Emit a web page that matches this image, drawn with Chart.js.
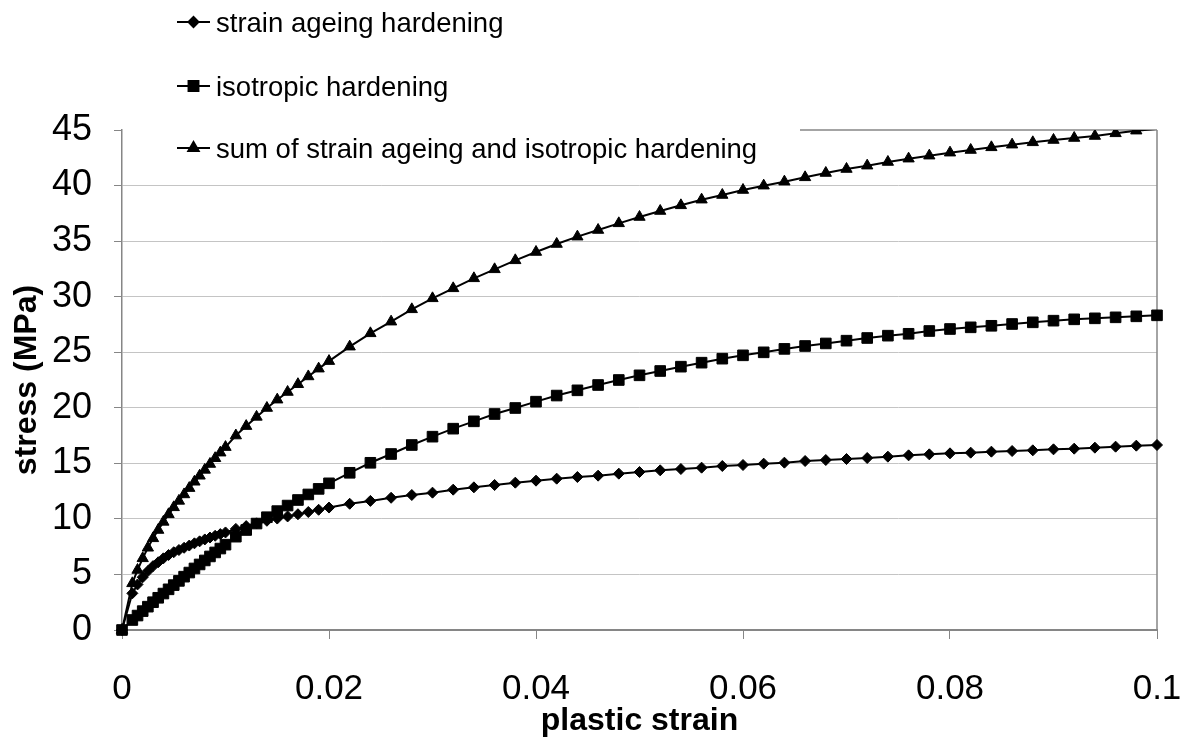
<!DOCTYPE html>
<html lang="en">
<head>
<meta charset="UTF-8">
<title>Stress vs plastic strain</title>
<script src="https://cdn.jsdelivr.net/npm/chart.js"></script>
<style>
  html, body { margin: 0; padding: 0; background: #fff; }
  .chart-container { width: 1189px; height: 740px; position: relative; }
</style>
</head>
<body>
<div class="chart-container"><canvas id="stressChart"></canvas></div>
<script>
// plastic strain (x) shared by all three series
const strain = [
  0, 0.001, 0.0015, 0.002, 0.0025, 0.003, 0.0035, 0.004, 0.0045, 0.005,
  0.0055, 0.006, 0.0065, 0.007, 0.0075, 0.008, 0.0085, 0.009, 0.0095, 0.01,
  0.011, 0.012, 0.013, 0.014, 0.015, 0.016, 0.017, 0.018, 0.019, 0.02,
  0.022, 0.024, 0.026, 0.028, 0.03, 0.032, 0.034, 0.036, 0.038, 0.04,
  0.042, 0.044, 0.046, 0.048, 0.05, 0.052, 0.054, 0.056, 0.058, 0.06,
  0.062, 0.064, 0.066, 0.068, 0.07, 0.072, 0.074, 0.076, 0.078, 0.08,
  0.082, 0.084, 0.086, 0.088, 0.09, 0.092, 0.094, 0.096, 0.098, 0.1
];

const strainAgeing = [
  0, 3.3, 4.1, 4.75, 5.3, 5.75, 6.1, 6.45, 6.75, 7.0,
  7.2, 7.4, 7.6, 7.8, 7.98, 8.15, 8.32, 8.48, 8.63, 8.78,
  9.1, 9.35, 9.6, 9.83, 10.03, 10.22, 10.42, 10.62, 10.82, 11.02,
  11.36, 11.62, 11.9, 12.15, 12.36, 12.63, 12.84, 13.05, 13.26, 13.44,
  13.62, 13.77, 13.89, 14.07, 14.22, 14.37, 14.49, 14.61, 14.76, 14.85,
  14.97, 15.06, 15.21, 15.3, 15.39, 15.48, 15.6, 15.72, 15.81, 15.9,
  15.96, 16.05, 16.11, 16.17, 16.26, 16.32, 16.41, 16.5, 16.59, 16.65
];

const isotropic = [
  0, 0.9, 1.3, 1.7, 2.1, 2.5, 2.9, 3.28, 3.66, 4.04,
  4.42, 4.8, 5.17, 5.54, 5.9, 6.26, 6.62, 6.98, 7.33, 7.68,
  8.4, 9.0, 9.58, 10.15, 10.7, 11.2, 11.7, 12.2, 12.7, 13.2,
  14.15, 15.05, 15.84, 16.65, 17.4, 18.12, 18.78, 19.44, 19.98, 20.55,
  21.1, 21.57, 22.05, 22.5, 22.92, 23.31, 23.7, 24.06, 24.42, 24.72,
  24.99, 25.3, 25.56, 25.79, 26.04, 26.28, 26.49, 26.66, 26.91, 27.09,
  27.24, 27.38, 27.54, 27.69, 27.84, 27.96, 28.05, 28.14, 28.23, 28.32
];

const sumHardening = [
  0, 4.2, 5.4, 6.45, 7.4, 8.25, 9.0, 9.73, 10.41, 11.04,
  11.62, 12.2, 12.77, 13.34, 13.88, 14.41, 14.94, 15.46, 15.96, 16.46,
  17.5, 18.35, 19.18, 19.98, 20.73, 21.42, 22.12, 22.82, 23.52, 24.2,
  25.5, 26.7, 27.75, 28.86, 29.85, 30.75, 31.65, 32.46, 33.27, 34.02,
  34.74, 35.4, 36.0, 36.6, 37.17, 37.71, 38.22, 38.73, 39.15, 39.6,
  39.99, 40.35, 40.74, 41.13, 41.49, 41.79, 42.12, 42.42, 42.69, 42.96,
  43.2, 43.44, 43.68, 43.89, 44.1, 44.28, 44.46, 44.7, 44.94, 45.1
];

const seriesLabels = [
  'strain ageing hardening',
  'isotropic hardening',
  'sum of strain ageing and isotropic hardening'
];

const xTicks = [0, 0.02, 0.04, 0.06, 0.08, 0.1];
const yTicks = [0, 5, 10, 15, 20, 25, 30, 35, 40, 45];
const Y_MAX = 45;

const FONT = "'Liberation Sans', Arial, Helvetica, sans-serif";
const AXIS_GREY = '#868686';
const GRID_GREY = '#c4c4c4';

// marker size per point style, shared by plot and legend
const MARKER_R = { rectRot: 5.5, rect: 7.5, triangle: 6.5 };

function toPoints(ys) {
  return strain.map((x, i) => ({ x: x, y: ys[i] }));
}

// hide markers that fall above the top of the axis (Excel clips them)
function markerRadius(r) {
  return ctx => (ctx.raw && ctx.raw.y > Y_MAX ? 0 : r);
}

function makeDataset(label, ys, style) {
  return {
    label: label,
    data: toPoints(ys),
    showLine: true,
    borderColor: '#000',
    borderWidth: 2,
    backgroundColor: '#000',
    pointStyle: style,
    pointRadius: markerRadius(MARKER_R[style]),
    pointBackgroundColor: '#000',
    pointBorderColor: '#000',
    pointBorderWidth: 1,
    pointHoverRadius: markerRadius(MARKER_R[style]),
    tension: 0,
    clip: { left: 14, right: 14, top: 0, bottom: 14 }
  };
}

// legend rows drawn over the top-left of the plot, plus the frame lines
const frameAndLegend = {
  id: 'frameAndLegend',
  beforeDatasetsDraw(chart) {
    const { ctx, chartArea } = chart;
    ctx.save();
    ctx.strokeStyle = AXIS_GREY;
    ctx.lineWidth = 1.5;
    ctx.beginPath();
    ctx.moveTo(chartArea.right, chartArea.top);
    ctx.lineTo(chartArea.right, chartArea.bottom);
    ctx.moveTo(800, chartArea.top);
    ctx.lineTo(chartArea.right, chartArea.top);
    ctx.stroke();
    ctx.restore();
  },
  afterDraw(chart) {
    const { ctx } = chart;
    const rows = [22, 86, 148];
    ctx.save();
    chart.data.datasets.forEach((ds, i) => {
      const y = rows[i];
      ctx.strokeStyle = '#000';
      ctx.lineWidth = 2;
      ctx.beginPath();
      ctx.moveTo(177, y);
      ctx.lineTo(210, y);
      ctx.stroke();
      ctx.fillStyle = '#000';
      Chart.helpers.drawPoint(ctx, { pointStyle: ds.pointStyle, radius: MARKER_R[ds.pointStyle] - 0.5, rotation: 0, borderWidth: 1 }, 193.5, y);
      ctx.font = '27.5px ' + FONT;
      ctx.textBaseline = 'middle';
      ctx.textAlign = 'left';
      ctx.fillText(ds.label, 216, y + 2);
    });
    ctx.restore();
  }
};

new Chart(document.getElementById('stressChart'), {
  type: 'scatter',
  data: {
    datasets: [
      makeDataset(seriesLabels[0], strainAgeing, 'rectRot'),
      makeDataset(seriesLabels[1], isotropic, 'rect'),
      makeDataset(seriesLabels[2], sumHardening, 'triangle')
    ]
  },
  options: {
    responsive: true,
    maintainAspectRatio: false,
    animation: false,
    layout: { padding: { top: 130, right: 32, left: 0, bottom: 0 } },
    plugins: {
      legend: { display: false },
      tooltip: { enabled: false }
    },
    scales: {
      x: {
        type: 'linear',
        min: 0,
        max: 0.1,
        afterBuildTicks: s => { s.ticks = xTicks.map(v => ({ value: v })); },
        afterFit: s => { s.height = 110; s.paddingLeft = 0; s.paddingRight = 0; },
        ticks: {
          color: '#000',
          font: { family: FONT, size: 35 },
          padding: 29,
          maxRotation: 0,
          callback: v => String(v)
        },
        grid: {
          drawOnChartArea: false,
          drawTicks: true,
          tickLength: 9,
          tickColor: AXIS_GREY,
          tickWidth: 1
        },
        border: { color: AXIS_GREY, width: 2 },
        title: {
          display: true,
          text: 'plastic strain',
          color: '#000',
          font: { family: FONT, size: 32, weight: 'bold' },
          padding: { top: 0, bottom: 0 }
        }
      },
      y: {
        type: 'linear',
        min: 0,
        max: Y_MAX,
        afterBuildTicks: s => { s.ticks = yTicks.map(v => ({ value: v })); },
        afterFit: s => { s.width = 122; s.paddingTop = 0; s.paddingBottom = 0; },
        ticks: {
          color: '#000',
          font: { family: FONT, size: 36 },
          padding: 22,
          callback: v => String(v)
        },
        grid: {
          color: ctx => (ctx.tick && ctx.tick.value === Y_MAX ? 'rgba(0,0,0,0)' : GRID_GREY),
          lineWidth: 1,
          tickLength: 8,
          tickColor: AXIS_GREY,
          tickWidth: 1
        },
        border: { color: AXIS_GREY, width: 1.5 },
        title: {
          display: true,
          text: 'stress (MPa)',
          color: '#000',
          font: { family: FONT, size: 32, weight: 'bold' },
          padding: { top: 8, bottom: 0 }
        }
      }
    }
  },
  plugins: [frameAndLegend]
});
</script>
</body>
</html>
